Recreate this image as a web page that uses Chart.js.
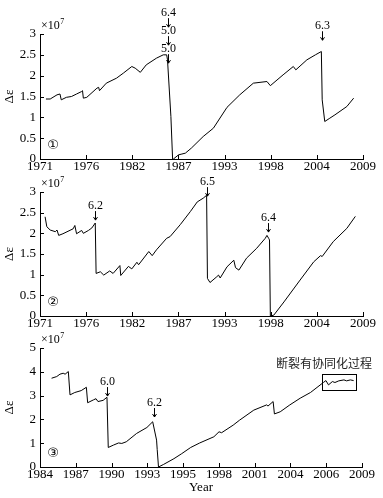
<!DOCTYPE html>
<html>
<head>
<meta charset="utf-8">
<script src="https://cdn.jsdelivr.net/npm/chart.js@4.4.0/dist/chart.umd.min.js"></script>
<style>
body { margin: 0; background: #fff; width: 383px; height: 498px; overflow: hidden; position: relative; }
canvas { position: absolute; left: 0; }
</style>
</head>
<body>
<canvas id="panel1" width="383" height="175" style="top:0px"></canvas>
<canvas id="panel2" width="383" height="157" style="top:175px"></canvas>
<canvas id="panel3" width="383" height="166" style="top:332px"></canvas>
<script>
// Tick labels (evenly spaced along each x axis)
const yearTicks12 = ['1971', '1976', '1982', '1987', '1993', '1998', '2004', '2009'];
const yearTicks3 = ['1984', '1987', '1990', '1993', '1995', '1998', '2001', '2004', '2006', '2009'];

// Panel 1 (x10^7)
const years1 = [1971.7, 1972.2, 1973.0, 1973.35, 1973.5, 1974.1, 1974.7, 1975.3, 1975.9, 1976.0, 1976.1, 1976.5,
  1977.7, 1977.9, 1978.0, 1978.8, 1980.0, 1980.8, 1981.8, 1982.2, 1982.8, 1983.5, 1984.7, 1985.5, 1985.9, 1986.0,
  1986.4, 1986.6, 1986.7, 1987.3, 1987.7, 1988.1, 1988.8, 1990.2, 1991.4, 1993.0, 1994.5, 1996.1, 1997.7, 1998.1,
  1999.6, 2000.8, 2001.1, 2002.4, 2003.4, 2004.1, 2004.2, 2004.5, 2005.1, 2005.7, 2007.1, 2007.9];
const values1 = [1.44, 1.44, 1.54, 1.56, 1.42, 1.48, 1.50, 1.56, 1.62, 1.64, 1.46, 1.48,
  1.70, 1.72, 1.64, 1.82, 1.94, 2.06, 2.22, 2.18, 2.08, 2.26, 2.42, 2.50, 2.50, 2.38,
  1.02, 0, 0, 0.10, 0.12, 0.14, 0.26, 0.54, 0.74, 1.24, 1.54, 1.82, 1.86, 1.76,
  2.02, 2.22, 2.14, 2.38, 2.50, 2.58, 1.42, 0.90, 0.98, 1.06, 1.26, 1.46];
const quakes1 = [
  { x: 1986.0, y: 2.30, labels: ['6.4', '5.0', '5.0'] },
  { x: 2004.15, y: 2.85, labels: ['6.3'] }
];

// Panel 2
const years2 = [1971.6, 1971.8, 1972.2, 1972.8, 1973.0, 1973.2, 1973.7, 1974.9, 1975.1, 1975.3, 1975.9, 1976.1,
  1976.7, 1977.1, 1977.5, 1977.6, 1978.1, 1978.5, 1979.2, 1979.6, 1980.4, 1980.5, 1981.4, 1981.8, 1982.4, 1982.6,
  1983.8, 1984.2, 1984.7, 1985.9, 1986.3, 1987.5, 1988.7, 1989.5, 1990.2, 1990.6, 1990.7, 1991.0, 1991.8, 1992.0,
  1992.2, 1993.0, 1993.8, 1994.0, 1994.4, 1995.3, 1996.5, 1997.5, 1997.7, 1997.9, 1998.0, 1998.1, 1998.5, 1999.7,
  2001.6, 2003.2, 2004.0, 2004.2, 2005.5, 2007.1, 2008.1];
const values2 = [2.40, 2.16, 2.08, 2.04, 2.08, 1.95, 1.99, 2.11, 2.19, 1.99, 2.07, 2.00,
  2.07, 2.13, 2.25, 1.03, 1.07, 0.99, 1.09, 1.03, 1.22, 0.98, 1.20, 1.14, 1.30, 1.24,
  1.56, 1.46, 1.60, 1.88, 1.92, 2.21, 2.53, 2.76, 2.85, 2.92, 0.91, 0.81, 0.95, 0.99,
  0.92, 1.19, 1.35, 1.17, 1.11, 1.40, 1.64, 1.88, 1.95, 1.88, 1.84, 0, 0.02, 0.34,
  0.87, 1.31, 1.46, 1.44, 1.80, 2.12, 2.41];
const quakes2 = [
  { x: 1977.5, y: 2.32, labels: ['6.2'] },
  { x: 1990.6, y: 2.90, labels: ['6.5'] },
  { x: 1997.8, y: 2.03, labels: ['6.4'] }
];

// Panel 3
const years3 = [1984.9, 1985.3, 1985.55, 1985.8, 1985.95, 1986.2, 1986.25, 1986.33, 1986.7, 1987.2, 1987.6, 1987.7,
  1988.15, 1988.35, 1988.5, 1988.9, 1989.2, 1989.3, 1989.7, 1990.1, 1990.35, 1990.7, 1991.5, 1992.3, 1992.75,
  1993.05, 1993.1, 1993.2, 1993.6, 1994.4, 1995.0, 1995.7, 1996.4, 1997.5, 1997.9, 1998.1, 1999.0, 1999.5, 2000.6,
  2001.6, 2001.7, 2002.1, 2002.2, 2002.65, 2003.4, 2004.2, 2005.0, 2006.0, 2006.2, 2006.4, 2006.7, 2006.9, 2007.2,
  2007.6, 2007.8, 2008.1, 2008.35];
const values3 = [3.73, 3.80, 3.90, 3.94, 3.90, 4.01, 4.01, 3.03, 3.13, 3.21, 3.35, 2.70,
  2.82, 2.87, 2.75, 2.80, 2.93, 0.82, 0.92, 1.01, 0.99, 1.06, 1.41, 1.66, 1.90,
  1.13, 0.73, 0, 0.11, 0.35, 0.56, 0.82, 1.01, 1.27, 1.48, 1.44, 1.76, 1.97, 2.39,
  2.61, 2.56, 2.75, 2.23, 2.32, 2.61, 2.89, 3.13, 3.55, 3.63, 3.45, 3.59, 3.55, 3.62,
  3.66, 3.62, 3.66, 3.63];
const quakes3 = [
  { x: 1989.2, y: 2.98, labels: ['6.0'] },
  { x: 1992.85, y: 2.10, labels: ['6.2'] }
];
const noteBox3 = { x0: 2005.9, x1: 2008.5, y0: 3.24, y1: 3.92 };
const noteText3 = { x: 2006.05, y: 4.37, text: '断裂有协同化过程' };

const SERIF = '"Liberation Serif", "DejaVu Serif", serif';
Chart.defaults.font.family = SERIF;
Chart.defaults.font.size = 13;
Chart.defaults.color = '#000';

function evenTicks(min, max, labels) {
    return labels.map((l, i) => ({ value: min + i * (max - min) / (labels.length - 1) }));
}

function drawArrow(ctx, x, y0, y1) {
    ctx.beginPath();
    ctx.moveTo(x, y0);
    ctx.lineTo(x, y1);
    ctx.moveTo(x - 2, y1 - 3);
    ctx.lineTo(x, y1);
    ctx.lineTo(x + 2, y1 - 3);
    ctx.stroke();
}

// extras drawn on top: inward ticks, exponent, panel tag, quake arrows, note box
function makeExtras(cfg) {
    return {
        id: 'extras_' + cfg.id,
        afterDatasetsDraw(chart) {
            const ctx = chart.ctx, xs = chart.scales.x, ys = chart.scales.y, a = chart.chartArea;
            ctx.save();
            ctx.strokeStyle = '#000';
            ctx.fillStyle = '#000';
            ctx.lineWidth = 1;

            ctx.beginPath();
            xs.ticks.forEach(t => {
                const px = Math.round(xs.getPixelForValue(t.value)) + 0.5;
                ctx.moveTo(px, a.bottom);
                ctx.lineTo(px, a.bottom - 4);
            });
            ys.ticks.forEach(t => {
                const py = Math.round(ys.getPixelForValue(t.value)) + 0.5;
                ctx.moveTo(a.left, py);
                ctx.lineTo(a.left + 4, py);
            });
            ctx.stroke();

            // x10^7
            ctx.textAlign = 'left';
            ctx.textBaseline = 'alphabetic';
            ctx.font = '12px ' + SERIF;
            const ex = a.left + 1, ey = a.top - 5;
            ctx.fillText('×10', ex, ey);
            const w = ctx.measureText('×10').width;
            ctx.font = '8px ' + SERIF;
            ctx.fillText('7', ex + w + 0.5, ey - 5);

            // circled panel number
            ctx.font = '13px "DejaVu Sans", ' + SERIF;
            ctx.textAlign = 'center';
            ctx.textBaseline = 'middle';
            ctx.fillText(cfg.tag, a.left + 13, a.bottom - 13);

            // quake arrows
            ctx.font = '12px ' + SERIF;
            cfg.quakes.forEach(q => {
                const px = Math.round(xs.getPixelForValue(q.x)) + 0.5;
                let tip = ys.getPixelForValue(q.y);
                q.labels.slice().reverse().forEach(lbl => {
                    drawArrow(ctx, px, tip - 9, tip);
                    ctx.fillText(lbl, px, tip - 14);
                    tip -= 18;
                });
            });

            if (cfg.box) {
                const bx0 = Math.round(xs.getPixelForValue(cfg.box.x0)) + 0.5;
                const bx1 = Math.round(xs.getPixelForValue(cfg.box.x1)) + 0.5;
                const by0 = Math.round(ys.getPixelForValue(cfg.box.y1)) + 0.5;
                const by1 = Math.round(ys.getPixelForValue(cfg.box.y0)) + 0.5;
                ctx.strokeRect(bx0, by0, bx1 - bx0, by1 - by0);
            }
            if (cfg.note) {
                ctx.font = '12px "Noto Sans CJK SC"';
                ctx.fillStyle = '#222';
                ctx.fillText(cfg.note.text, xs.getPixelForValue(cfg.note.x), ys.getPixelForValue(cfg.note.y));
            }
            ctx.restore();
        }
    };
}

function makePanel(cfg) {
    return new Chart(document.getElementById(cfg.id), {
        type: 'line',
        data: {
            datasets: [{
                data: cfg.years.map((yr, i) => ({ x: yr, y: cfg.values[i] })),
                borderColor: '#000',
                borderWidth: 1,
                pointRadius: 0,
                tension: 0,
                fill: false
            }]
        },
        options: {
            responsive: false,
            animation: false,
            devicePixelRatio: 1,
            layout: { padding: { top: cfg.padTop, right: cfg.padRight, left: 0, bottom: 0 } },
            plugins: { legend: { display: false }, tooltip: { enabled: false } },
            scales: {
                x: {
                    type: 'linear',
                    min: cfg.xMin,
                    max: cfg.xMax,
                    grid: { display: false, drawTicks: false },
                    border: { display: true, color: '#000', width: 1 },
                    afterBuildTicks: s => { s.ticks = evenTicks(cfg.xMin, cfg.xMax, cfg.xLabels); },
                    ticks: { autoSkip: false, maxRotation: 0, padding: 0, callback: (v, i) => cfg.xLabels[i] },
                    afterFit: s => { s.height = cfg.xHeight; },
                    title: { display: !!cfg.xTitle, text: cfg.xTitle || '', font: { size: 13 }, padding: { top: 0, bottom: 3 } }
                },
                y: {
                    min: 0,
                    max: cfg.yMax,
                    grid: { display: false, drawTicks: false },
                    border: { display: true, color: '#000', width: 1 },
                    ticks: { stepSize: cfg.yStep, padding: 4, callback: v => String(Math.round(v * 10) / 10) },
                    afterFit: s => { s.width = 40; },
                    title: { display: true, text: 'Δε', font: { size: 13 }, padding: { top: 2, bottom: 0 } }
                }
            }
        },
        plugins: [makeExtras(cfg)]
    });
}

makePanel({ id: 'panel1', years: years1, values: values1, xMin: 1971, xMax: 2009, xLabels: yearTicks12,
    yMax: 3, yStep: 0.5, padTop: 34, padRight: 20, xHeight: 16, tag: '①', quakes: quakes1 });
makePanel({ id: 'panel2', years: years2, values: values2, xMin: 1971, xMax: 2009, xLabels: yearTicks12,
    yMax: 3, yStep: 0.5, padTop: 17, padRight: 20, xHeight: 16, tag: '②', quakes: quakes2 });
makePanel({ id: 'panel3', years: years3, values: values3, xMin: 1984, xMax: 2009, xLabels: yearTicks3,
    yMax: 5, yStep: 1, padTop: 16, padRight: 21, xHeight: 31, tag: '③', quakes: quakes3,
    box: noteBox3, note: noteText3, xTitle: 'Year' });
</script>
</body>
</html>
